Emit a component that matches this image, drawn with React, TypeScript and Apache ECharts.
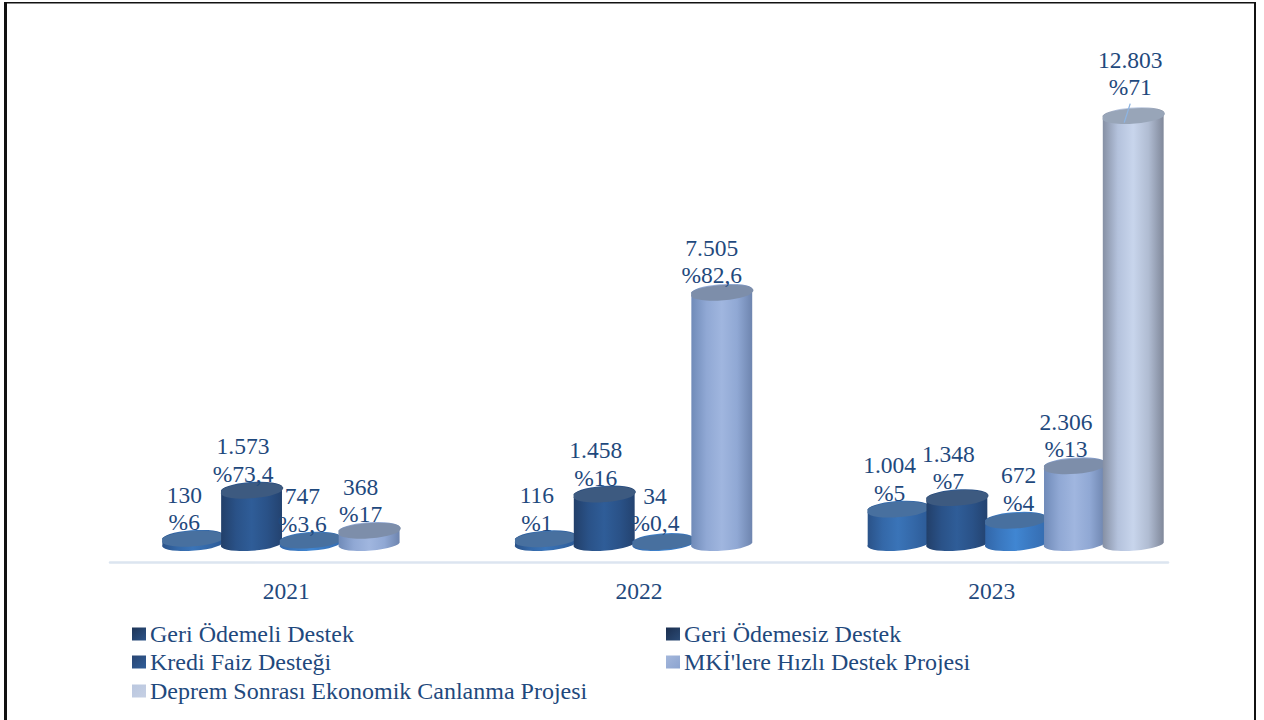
import React, { useEffect, useRef } from "react";
import * as echarts from "echarts";

const categories = ["2021", "2022", "2023"];
const seriesNames = [
  "Geri Ödemeli Destek",
  "Geri Ödemesiz Destek",
  "Kredi Faiz Desteği",
  "MKİ'lere Hızlı Destek Projesi",
  "Deprem Sonrası Ekonomik Canlanma Projesi",
];

// Bar heights (the 2021 "747" label stands on a bar of about 75).
const geriOdemeli = [130, 116, 1004];
const geriOdemesiz = [1573, 1458, 1348];
const krediFaiz = [75, 34, 672];
const mkiHizli = [368, 7505, 2306];
const deprem = [null, null, 12803];
const seriesValues = [geriOdemeli, geriOdemesiz, krediFaiz, mkiHizli, deprem];

// Printed labels
const geriOdemeliLabels = ["130\n%6", "116\n%1", "1.004\n%5"];
const geriOdemesizLabels = ["1.573\n%73,4", "1.458\n%16", "1.348\n%7"];
const krediFaizLabels = ["747\n%3,6", "34\n%0,4", "672\n%4"];
const mkiHizliLabels = ["368\n%17", "7.505\n%82,6", "2.306\n%13"];
const depremLabels = [null, null, "12.803\n%71"];
const seriesLabels = [geriOdemeliLabels, geriOdemesizLabels, krediFaizLabels, mkiHizliLabels, depremLabels];

const FONT = '"Liberation Serif"';
const TEXT = "#1F497D";

const grad = (stops: string[]) =>
  new echarts.graphic.LinearGradient(0, 0, 1, 0, stops.map((color, i) => ({ offset: i / (stops.length - 1), color })));

const bodyStops = [
  ["#2A5288", "#3468A8", "#3A74B8", "#3468A8", "#2C5A96"],
  ["#223F69", "#2A5288", "#2F5D98", "#2A5288", "#23426F"],
  ["#3266A8", "#3A78C0", "#4086D2", "#3A78C0", "#356CB0"],
  ["#6F8AB8", "#90A8D4", "#A0B6DF", "#90A8D4", "#6D84AE"],
  ["#858FA3", "#B4C2DC", "#C8D5EC", "#B0BCD2", "#7F8799"],
];
const topColors = ["#48709F", "#3D5A80", "#48709F", "#7D8EAA", "#98A5B8"];
const legendStops = [
  ["#1E3557", "#2D5488"],
  ["#1B2E4E", "#2B4B76"],
  ["#2A4672", "#305E99"],
  ["#A4B7DB", "#8CA4D0"],
  ["#BAC7DF", "#C6D0E4"],
];

// label nudges [dx, dy] by series / category
const labelNudge: Record<string, [number, number]> = {
  "2-0": [-8, -17],
  "2-1": [-8, -19],
  "2-2": [3, -18],
  "3-1": [-10, -18],
  "4-2": [-3, -29],
};

const RX = 30.5;
const RY = 7;
const TILT = (-4 * Math.PI) / 180;
const BAND_SHIFT = 24;

function makeRenderItem(seriesIdx: number) {
  return (params: any, api: any) => {
    const raw = seriesValues[seriesIdx][params.dataIndex];
    if (raw == null) return null;
    const cat = api.value(0);
    const band = api.size([1, 0])[0];
    const slot = band / 6;
    const base = api.coord([cat, 0]);
    const top = api.coord([cat, raw]);
    const cx = base[0] + BAND_SHIFT + (seriesIdx - 2) * slot;
    const dx = RX * Math.cos(TILT);
    const dy = RX * Math.sin(TILT);
    const yb = base[1];
    const yt = top[1];
    const deg = (TILT * 180) / Math.PI;
    const body =
      `M${cx - dx} ${yt - dy}L${cx - dx} ${yb - dy}` +
      `A${RX} ${RY} ${deg} 0 0 ${cx + dx} ${yb + dy}` +
      `L${cx + dx} ${yt + dy}` +
      `A${RX} ${RY} ${deg} 0 0 ${cx - dx} ${yt - dy}Z`;
    const cap =
      `M${cx - dx} ${yt - dy}` +
      `A${RX} ${RY} ${deg} 0 0 ${cx + dx} ${yt + dy}` +
      `A${RX} ${RY} ${deg} 0 0 ${cx - dx} ${yt - dy}Z`;
    const nudge = labelNudge[`${seriesIdx}-${params.dataIndex}`] || [-8.5, -17];
    const children: any[] = [
      { type: "path", shape: { pathData: body }, style: { fill: grad(bodyStops[seriesIdx]) } },
      { type: "path", shape: { pathData: cap }, style: { fill: topColors[seriesIdx] } },
    ];
    if (seriesIdx === 4) {
      children.push({
        type: "line",
        shape: { x1: cx - 3, y1: yt - 12, x2: cx - 9, y2: yt + 7 },
        style: { stroke: "#8DB4E2", lineWidth: 1.3 },
      });
    }
    children.push({
      type: "text",
      style: {
        text: seriesLabels[seriesIdx][params.dataIndex],
        x: cx + nudge[0],
        y: yt + nudge[1] + 14.5,
        align: "center",
        verticalAlign: "bottom",
        fill: TEXT,
        font: `23.5px ${FONT}`,
        lineHeight: 27.5,
      },
    });
    return { type: "group", children };
  };
}

const legendPlaces = [
  { left: 132, top: 622 },
  { left: 666, top: 622 },
  { left: 132, top: 650 },
  { left: 666, top: 650 },
  { left: 132, top: 679 },
];

export default function App() {
  const ref = useRef<HTMLDivElement>(null);
  useEffect(() => {
    document.body.style.margin = "0";
    const chart = echarts.init(ref.current!, null, { renderer: "svg" });
    chart.setOption({
      animation: false,
      backgroundColor: "#fff",
      grid: { left: 110, right: 96, top: 20, bottom: 158 },
      xAxis: {
        type: "category",
        data: categories,
        axisLine: { onZero: false, lineStyle: { color: "#DCE5F0", width: 2.5 } },
        axisTick: { show: false },
        axisLabel: { color: TEXT, fontFamily: FONT, fontSize: 23.5, margin: 17 },
      },
      yAxis: { type: "value", min: -580, max: 15670, show: false, splitLine: { show: false } },
      legend: seriesNames.map((name, i) => ({
        ...legendPlaces[i],
        orient: "horizontal",
        padding: 0,
        itemWidth: 14,
        itemHeight: 13,
        itemGap: 0,
        selectedMode: false,
        textStyle: { color: TEXT, fontFamily: FONT, fontSize: 24, padding: [0, 0, 0, -1] },
        data: [
          {
            name,
            icon: "rect",
            itemStyle: { color: new echarts.graphic.LinearGradient(0, 0, 1, 1, [
              { offset: 0, color: legendStops[i][0] },
              { offset: 1, color: legendStops[i][1] },
            ]) },
          },
        ],
      })),
      series: seriesNames.map((name, i) => ({
        type: "custom",
        name,
        clip: false,
        silent: true,
        renderItem: makeRenderItem(i),
        encode: { x: 0, y: 1 },
        data: seriesValues[i].map((v, c) => [c, v]),
      })),
      graphic: [
        { type: "rect", shape: { x: 4, y: 2, width: 3, height: 718 }, style: { fill: "#111" } },
        { type: "rect", shape: { x: 4, y: 2, width: 1252, height: 1.5 }, style: { fill: "#111" } },
        { type: "rect", shape: { x: 1254, y: 2, width: 2, height: 718 }, style: { fill: "#111" } },
      ],
    });
    return () => chart.dispose();
  }, []);
  return <div ref={ref} style={{ position: "absolute", left: 0, top: 0, width: 1264, height: 720 }} />;
}
